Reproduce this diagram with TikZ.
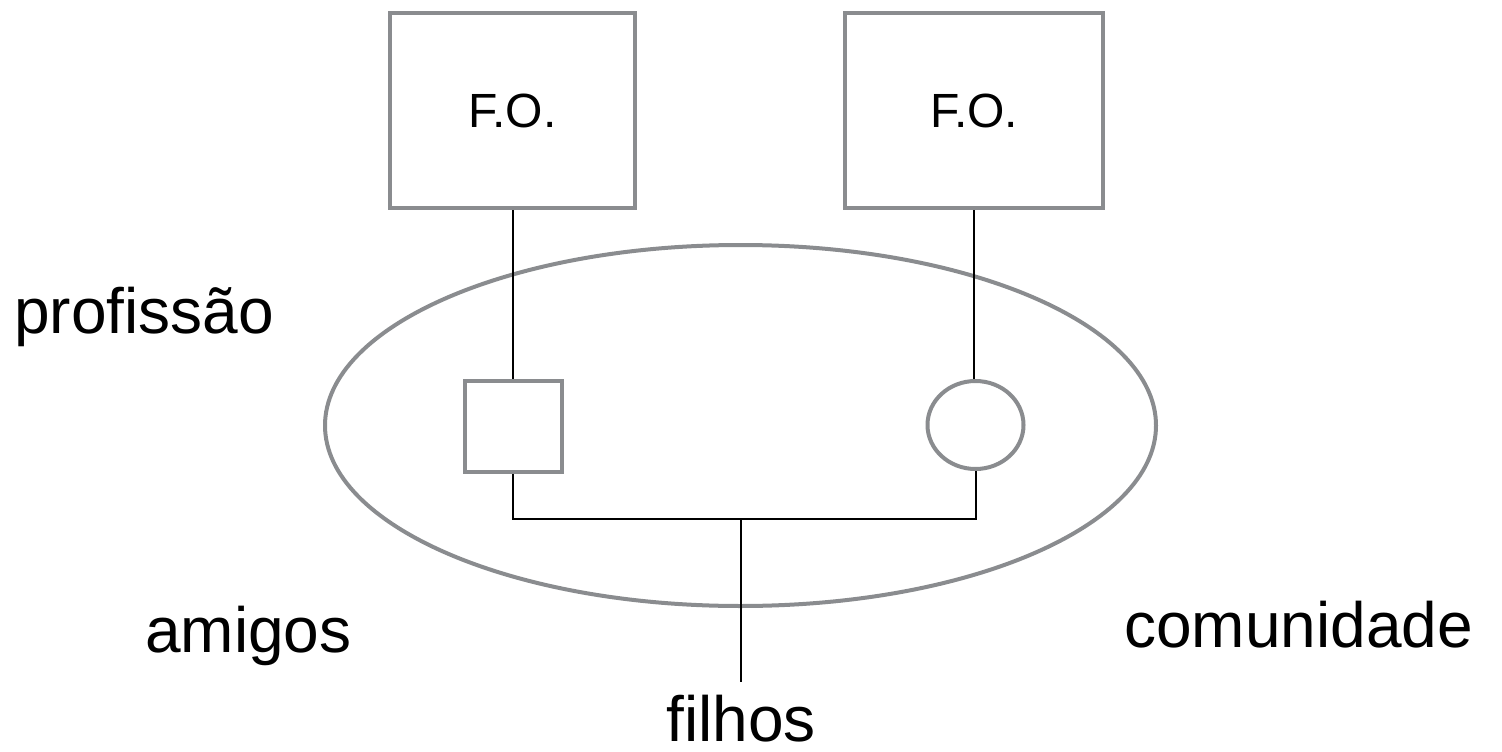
\documentclass[tikz,border=0pt]{standalone}
\usepackage{fontspec}
\setmainfont{Liberation Sans}
\usetikzlibrary{shapes.geometric}
\definecolor{edgegray}{HTML}{8A8C8F}
\begin{document}
\begin{tikzpicture}[x=1pt,y=-1pt,
  shapeline/.style={draw=edgegray,line width=4pt,inner sep=0pt},
  fobox/.style={shapeline,rectangle,minimum height=195pt,
    font=\fontsize{48}{52}\selectfont},
  link/.style={draw=black,line width=2pt},
  label/.style={inner sep=0pt,text depth=0pt,font=\fontsize{64}{70}\selectfont}]
  \useasboundingbox (0,0) rectangle (1502,752);

  % family circle
  \node[shapeline,ellipse,minimum width=831pt,minimum height=361pt]
    (fam) at (740.5,425.5) {};

  % origin families
  \node[fobox,minimum width=245pt] (fo1) at (512.5,110.5) {F.O.};
  \node[fobox,minimum width=258pt] (fo2) at (974,110.5) {F.O.};

  % couple
  \node[shapeline,rectangle,minimum width=97pt,minimum height=91pt]
    (man) at (513,426.5) {};
  \node[shapeline,ellipse,minimum width=96pt,minimum height=88pt]
    (woman) at (975.5,425) {};

  % surrounding labels
  \node[label,anchor=base west] (prof) at (14,333) {profissão};
  \node[label,anchor=base west] (amig) at (145,652) {amigos};
  \node[label,anchor=base west] (comu) at (1124,647) {comunidade};
  \node[label,anchor=base] (filh) at (741,741) {filhos};

  % descent lines
  \draw[link] (fo1.south) -- (fo1.south |- man.north);
  \draw[link] (fo2.south) -- (fo2.south |- woman.north);

  % marriage bar and children
  \coordinate (bar) at (741,519);
  \coordinate (stem) at (741,682);
  \draw[link] (man.south) -- (man.south |- bar) -| (woman.south);
  \draw[link] (bar) -- (stem);
\end{tikzpicture}
\end{document}
